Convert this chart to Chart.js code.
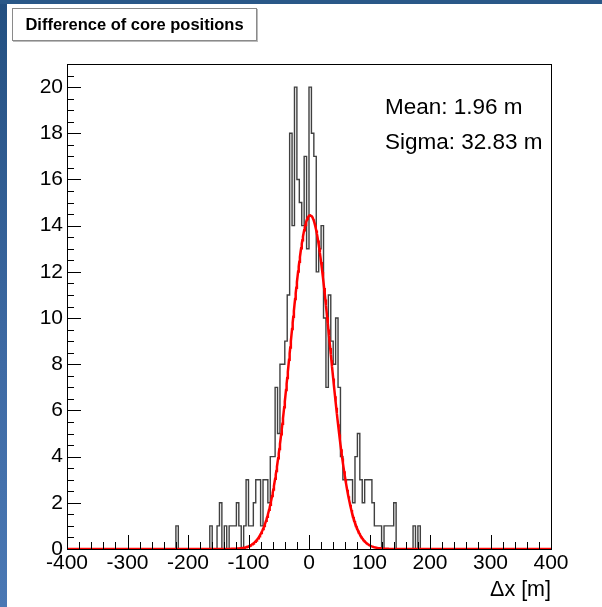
<!DOCTYPE html>
<html>
<head>
<meta charset="utf-8">
<script src="https://cdn.jsdelivr.net/npm/chart.js@4.4.1/dist/chart.umd.min.js"></script>
<style>
  html, body { margin: 0; padding: 0; width: 602px; height: 607px; overflow: hidden; background: #ffffff; }
  #leftStrip { position: absolute; left: 0; top: 0; width: 7px; height: 607px;
    background: linear-gradient(to bottom, #224f80, #3e6aa4 60%, #4a78b4); }
  #topStrip { position: absolute; left: 0; top: 0; width: 602px; height: 4px; background: #2a5888; }
  #wrap { position: absolute; left: 0; top: 0; width: 602px; height: 607px; }
  #titleBox { position: absolute; left: 12px; top: 8px; width: 243px; height: 31px;
    border: 1px solid #8a8a8a; background: #fff; box-shadow: 1px 1px 0 #bbb;
    font-family: "Liberation Sans", Arial, sans-serif; font-weight: bold; font-size: 16.5px;
    line-height: 31px; text-align: center; color: #000; }
  .stat { position: absolute; left: 385px; font-family: "Liberation Sans", Arial, sans-serif;
    font-size: 22.5px; line-height: 26px; color: #000; white-space: nowrap; }
</style>
</head>
<body>
<div id="leftStrip"></div>
<div id="topStrip"></div>
<div id="wrap"><canvas id="c" width="602" height="607"></canvas></div>
<div id="titleBox">Difference of core positions</div>
<div class="stat" id="meanText" style="top:94px;"></div>
<div class="stat" id="sigmaText" style="top:129px;"></div>
<script>
// ---- data ----
const histMin = -400;
const histMax = 400;
const binWidth = 4;
const counts = [
  0,0,0,0,0,0,0,0,0,0, 0,0,0,0,0,0,0,0,0,0,
  0,0,0,0,0,0,0,0,0,0, 0,0,0,0,0,0,0,0,0,0,
  0,0,0,0,0,0,1,0,0,0, 0,0,0,0,0,0,0,0,0,0,
  1,0,0,1,2,0,1,0,1,1, 1,2,1,0,1,3,1,1,2,3,
  3,1,3,3,2,4,4,7,5,8, 8,9,11,18,14,20,16,15,14,17,
  13,20,18,17,12,13,14,10,7,11, 9,8,10,7,4,3,3,3,3,2,
  4,5,3,2,3,3,3,2,1,1, 1,0,1,1,1,1,2,0,0,0,
  0,0,0,0,1,0,1,0,0,0, 0,0,0,0,0,0,0,0,0,0,
  0,0,0,0,0,0,0,0,0,0, 0,0,0,0,0,0,0,0,0,0,
  0,0,0,0,0,0,0,0,0,0, 0,0,0,0,0,0,0,0,0,0
];
// Gaussian fit parameters (from the stats box / fitted curve)
const fitMean = 1.96;
const fitSigma = 32.83;
const fitAmplitude = 14.45;
const statLabels = ["Mean: 1.96 m", "Sigma: 32.83 m"];
const xTickValues = [-400, -300, -200, -100, 0, 100, 200, 300, 400];
const yTickValues = [0, 2, 4, 6, 8, 10, 12, 14, 16, 18, 20];
const yMax = 21;
const xTitle = "\u0394x [m]";

document.getElementById('meanText').textContent = statLabels[0];
document.getElementById('sigmaText').textContent = statLabels[1];

// histogram step points
const histPoints = [];
for (let i = 0; i < counts.length; i++) {
  histPoints.push({ x: histMin + i * binWidth, y: counts[i] });
}
histPoints.push({ x: histMax, y: counts[counts.length - 1] });

// fitted function curve
const fitPoints = [];
for (let x = histMin; x <= histMax; x += 1) {
  const z = (x - fitMean) / fitSigma;
  fitPoints.push({ x: x, y: fitAmplitude * Math.exp(-0.5 * z * z) });
}

const FONT = "'Liberation Sans', Arial, sans-serif";

const innerTicks = {
  id: 'innerTicks',
  afterDatasetsDraw(chart) {
    const ctx = chart.ctx;
    const a = chart.chartArea;
    const xs = chart.scales.x, ys = chart.scales.y;
    ctx.save();
    ctx.strokeStyle = '#000';
    ctx.lineWidth = 1;
    ctx.beginPath();
    for (let v = histMin; v <= histMax; v += 20) {
      const px = Math.round(xs.getPixelForValue(v)) + 0.5;
      const len = (v % 100 === 0) ? 14 : 7;
      ctx.moveTo(px, a.bottom);
      ctx.lineTo(px, a.bottom - len);
    }
    for (let v = 0; v <= yMax + 1e-9; v += 0.5) {
      const py = Math.round(ys.getPixelForValue(v)) + 0.5;
      const len = (Math.abs(v % 2) < 1e-9) ? 14 : 7;
      ctx.moveTo(a.left, py);
      ctx.lineTo(a.left + len, py);
    }
    ctx.stroke();
    // frame
    ctx.strokeRect(Math.round(a.left) + 0.5, Math.round(a.top) + 0.5,
      Math.round(a.right - a.left), Math.round(a.bottom - a.top));
    ctx.restore();
  }
};

new Chart(document.getElementById('c'), {
  type: 'line',
  data: {
    datasets: [
      {
        label: 'fit',
        data: fitPoints,
        borderColor: '#ff0000',
        borderWidth: 2.5,
        pointRadius: 0,
        tension: 0,
        fill: false,
        order: 0
      },
      {
        label: 'hist',
        data: histPoints,
        borderColor: '#404040',
        borderWidth: 1.4,
        pointRadius: 0,
        stepped: 'after',
        fill: false,
        order: 1
      }
    ]
  },
  options: {
    responsive: false,
    animation: false,
    events: [],
    layout: { padding: { left: 0, top: 64, right: 51, bottom: 0 } },
    plugins: { legend: { display: false }, tooltip: { enabled: false }, title: { display: false } },
    scales: {
      x: {
        type: 'linear',
        min: histMin,
        max: histMax,
        afterFit(s) { s.height = 58; },
        afterBuildTicks(s) { s.ticks = xTickValues.map(v => ({ value: v })); },
        grid: { display: false, drawTicks: false },
        border: { display: false },
        ticks: { color: '#000', font: { family: FONT, size: 21 }, padding: 2, maxRotation: 0, autoSkip: false },
        title: { display: true, text: xTitle, align: 'end', color: '#000',
          font: { family: FONT, size: 21.5 }, padding: { top: 0, bottom: 4 } }
      },
      y: {
        type: 'linear',
        min: 0,
        max: yMax,
        afterFit(s) { s.width = 67; },
        afterBuildTicks(s) { s.ticks = yTickValues.map(v => ({ value: v })); },
        grid: { display: false, drawTicks: false },
        border: { display: false },
        ticks: { color: '#000', font: { family: FONT, size: 21 }, padding: 4, autoSkip: false }
      }
    }
  },
  plugins: [innerTicks]
});
</script>
</body>
</html>
